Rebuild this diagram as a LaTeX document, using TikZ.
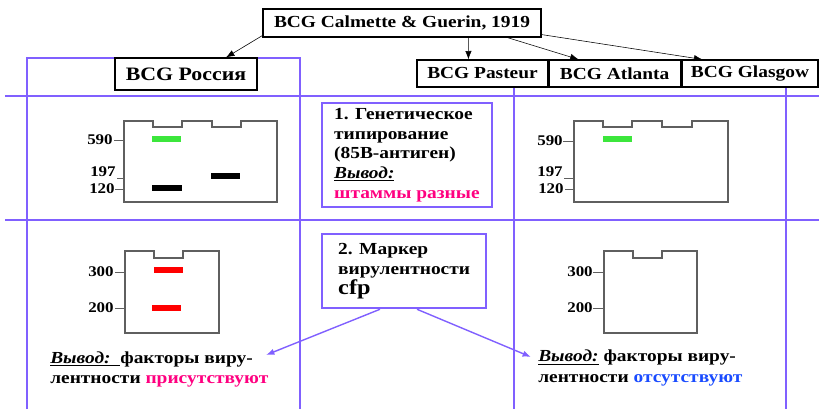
\documentclass[tikz,border=0pt]{standalone}
\usepackage{fontspec}
\setmainfont{Liberation Serif}[FakeStretch=1.15]
\usepackage{xcolor}
\usetikzlibrary{arrows.meta,calc,positioning}
\definecolor{gridviolet}{RGB}{128,96,255}
\definecolor{darkpink}{RGB}{255,0,128}
\definecolor{markblue}{RGB}{25,75,255}
\definecolor{bandgreen}{RGB}{60,230,60}
\definecolor{gelgray}{RGB}{95,95,95}

\tikzset{
  strain/.style={draw, thick, fill=white, inner sep=0pt, font=\bfseries\fontsize{12}{14}\selectfont},
  tableline/.style={gridviolet, thick},
  infobox/.style={draw=gridviolet, line width=1.6pt, fill=white, align=left, anchor=north west,
    inner xsep=0.3cm, inner ysep=2pt, font=\bfseries\fontsize{12}{13.9}\selectfont},
  concl/.style={align=left, anchor=north west, inner sep=0pt, font=\bfseries\fontsize{12}{14.5}\selectfont},
  gel/.style={draw=gelgray, line width=1pt},
  band/.style={line width=3.6pt},
  sizelabel/.style={anchor=east, inner sep=0pt, font=\bfseries\fontsize{10.5}{12}\selectfont},
  tip/.style={-{Latex[length=6pt,width=4.5pt]}},
}

\begin{document}
\begin{tikzpicture}[x=0.025cm,y=-0.025cm]
        \useasboundingbox (0,0) rectangle (819,409);
        %Table
        \draw[tableline] (5,96) -- (819,96);
        \draw[tableline] (5,220) -- (819,220);
        \draw[tableline] (27,409) -- (27,58) -- (300,58) -- (300,409);
        \draw[tableline] (514,87) -- (514,409);
        \draw[tableline] (786,87) -- (786,409);
        %Strains
        \node[strain, minimum width=6.95cm, minimum height=0.7cm] (calm) at (402,23) {BCG Calmette \& Guerin, 1919};
        \node[strain, minimum width=3.55cm, minimum height=0.8cm, font=\bfseries\fontsize{13.5}{15}\selectfont] (ros) at (186,74) {BCG Россия};
        \node[strain, minimum width=3.275cm, minimum height=0.675cm] (pasteur) at (482.5,73.5) {BCG Pasteur};
        \node[strain, minimum width=3.275cm, minimum height=0.675cm, right=0pt of pasteur] (atlanta) {BCG Atlanta};
        \node[strain, minimum width=3.4cm, minimum height=0.675cm] (glasgow) at (750,73.5) {BCG Glasgow};
        %Arrows
        \draw[tip] ($(calm.south west)+(0,-2)$) -- ($(ros.north)+(40,0)$);
        \draw[tip] ($(calm.south west)+(206,0)$) -- ($(pasteur.north west)+(52,0)$);
        \draw[tip] ($(calm.south west)+(245,0)$) -- ($(atlanta.north west)+(30,0)$);
        \draw[tip] ($(calm.south east)+(0,-3)$) -- ($(glasgow.north west)+(21,0)$);
        %Gel 590/197/120, left
        \draw[gel] (124,121) -- (153,121) -- (153,127) -- (182,127) -- (182,121) -- (212,121) -- (212,127)
          -- (241,127) -- (241,121) -- (277,121) -- (277,202) -- (124,202) -- cycle;
        \draw[band, bandgreen] (152,139) -- (181,139);
        \draw[band, black] (152,188) -- (182,188);
        \draw[band, black] (211,176) -- (240,176);
        \draw[gelgray] (114,140) -- (123,140);
        \draw[gelgray] (117,178) -- (123,178);
        \draw[gelgray] (115,189) -- (123,189);
        \node[sizelabel] (l590) at (113,140) {590};
        \node[sizelabel] (l197) at (116,172) {197};
        \node[sizelabel] (l120) at (115,189) {120};
        %Gel 590/197/120, right
        \draw[gel] (574,121) -- (603,121) -- (603,127) -- (632,127) -- (632,121) -- (662,121) -- (662,127)
          -- (692,127) -- (692,121) -- (728,121) -- (728,202) -- (574,202) -- cycle;
        \draw[band, bandgreen] (603,139) -- (632,139);
        \draw[gelgray] (563,141) -- (573,141);
        \draw[gelgray] (564,178) -- (573,178);
        \draw[gelgray] (565,189) -- (573,189);
        \node[sizelabel] (r590) at (563,141) {590};
        \node[sizelabel] (r197) at (563,172) {197};
        \node[sizelabel] (r120) at (564,189) {120};
        %Gel 300/200, left
        \draw[gel] (125,251) -- (154,251) -- (154,258) -- (183,258) -- (183,251) -- (219,251) -- (219,333)
          -- (125,333) -- cycle;
        \draw[band, red] (154,270) -- (183,270);
        \draw[band, red] (152,308) -- (181,308);
        \draw[gelgray] (115,272) -- (124,272);
        \draw[gelgray] (115,308) -- (124,308);
        \node[sizelabel] (l300) at (114,272) {300};
        \node[sizelabel] (l200) at (114,308) {200};
        %Gel 300/200, right
        \draw[gel] (604,251) -- (633,251) -- (633,258) -- (662,258) -- (662,251) -- (697,251) -- (697,333)
          -- (604,333) -- cycle;
        \draw[gelgray] (593,272) -- (603,272);
        \draw[gelgray] (593,308) -- (603,308);
        \node[sizelabel] (r300) at (593,272) {300};
        \node[sizelabel] (r200) at (593,308) {200};
        %Methods
        \node[infobox, minimum width=4.175cm, minimum height=2.6cm] (gen) at (321,102)
          {1. Генетическое\\типирование\\(85B-антиген)\\\underline{\textit{Вывод:}}\\\textcolor{darkpink}{штаммы разные}};
        \node[infobox, minimum width=4.1cm, minimum height=1.85cm] (mark) at (321,233)
          {2. Маркер\\вирулентности\\{\fontsize{15}{16}\selectfont cfp}};
        %Conclusions
        \node[concl] (concL) at (50,351)
          {\underline{\textit{Вывод:}\ \ }факторы виру-\\лентности \textcolor{darkpink}{присутствуют}};
        \node[concl] (concR) at (538,350)
          {\underline{\textit{Вывод:}} факторы виру-\\лентности \textcolor{markblue}{отсутствуют}};
        \coordinate (tipL) at (266,355);
        \coordinate (tipR) at (531,357);
        \draw[tip, gridviolet, line width=1pt] ($(mark.south west)+(59,0)$) -- (tipL);
        \draw[tip, gridviolet, line width=1pt] ($(mark.south west)+(96,0)$) -- (tipR);
      \end{tikzpicture}
\end{document}
